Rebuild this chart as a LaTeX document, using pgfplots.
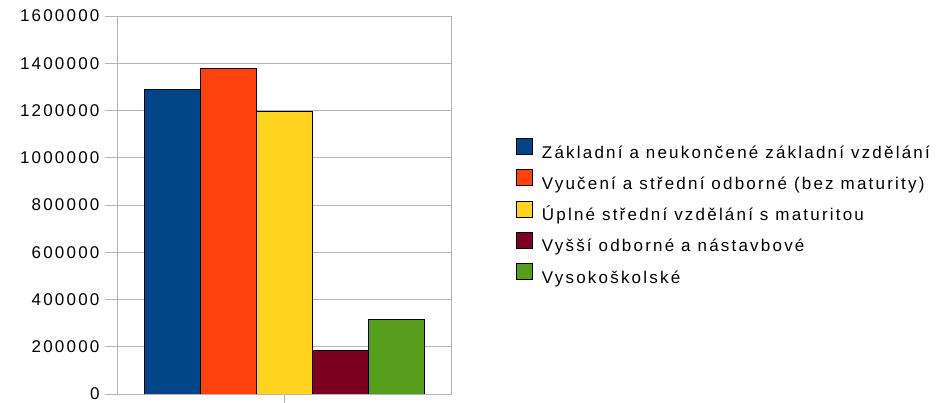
\documentclass[border=0pt]{standalone}
\usepackage{pgfplots}
\pgfplotsset{compat=1.18}
\usepackage{fontspec}
\setmainfont{Liberation Sans}[LetterSpace=13]

\definecolor{cBlue}{HTML}{004586}
\definecolor{cOrange}{HTML}{FF420E}
\definecolor{cYellow}{HTML}{FFD320}
\definecolor{cMaroon}{HTML}{7E0021}
\definecolor{cGreen}{HTML}{579D1C}
\definecolor{cGrid}{HTML}{B3B3B3}

\newcommand{\chartfont}{\fontsize{17pt}{20pt}\selectfont}

\begin{document}
\begin{tikzpicture}
\useasboundingbox (-117pt,-9pt) rectangle (822pt,394pt);
\begin{axis}[
  at={(0,0)}, anchor=south west,
  width=334pt, height=378pt, scale only axis,
  xmin=-1, xmax=1, xtick={0}, xticklabels={},
  ymin=0, ymax=1600000, ytick={0,200000,...,1600000},
  tick pos=left,
  scaled y ticks=false,
  /pgf/number format/assume math mode=true,
  tick label style={font=\chartfont},
  yticklabel style={/pgf/number format/fixed, /pgf/number format/1000 sep={}, xshift=-2pt},
  ybar=0pt, bar width=56pt,
  ymajorgrids, grid style={cGrid, line width=0.8pt},
  axis line style={cGrid, line width=0.8pt},
  tick style={cGrid, line width=0.8pt},
  tick align=outside, major tick length=12pt,
  legend cell align=left,
  legend image code/.code={\draw[#1, draw=black, line width=0.6pt] (0pt,-1pt) rectangle (16pt,15pt);},
  legend style={at={(1.195,0.485)}, anchor=west, draw=none, fill=none, font=\chartfont,
    inner sep=0pt, row sep=10.8pt, column sep=9pt,
    nodes={inner sep=0pt, text height=10pt, text depth=0pt}},
]
\addplot[fill=cBlue, draw=black, line width=0.6pt] coordinates {(0,1290000)};
\addplot[fill=cOrange, draw=black, line width=0.6pt] coordinates {(0,1380000)};
\addplot[fill=cYellow, draw=black, line width=0.6pt] coordinates {(0,1195000)};
\addplot[fill=cMaroon, draw=black, line width=0.6pt] coordinates {(0,183000)};
\addplot[fill=cGreen, draw=black, line width=0.6pt] coordinates {(0,316000)};
\legend{Základní a neukončené základní vzdělání,
  Vyučení a střední odborné (bez maturity),
  Úplné střední vzdělání s maturitou,
  Vyšší odborné a nástavbové,
  Vysokoškolské}
\end{axis}
\end{tikzpicture}
\end{document}
